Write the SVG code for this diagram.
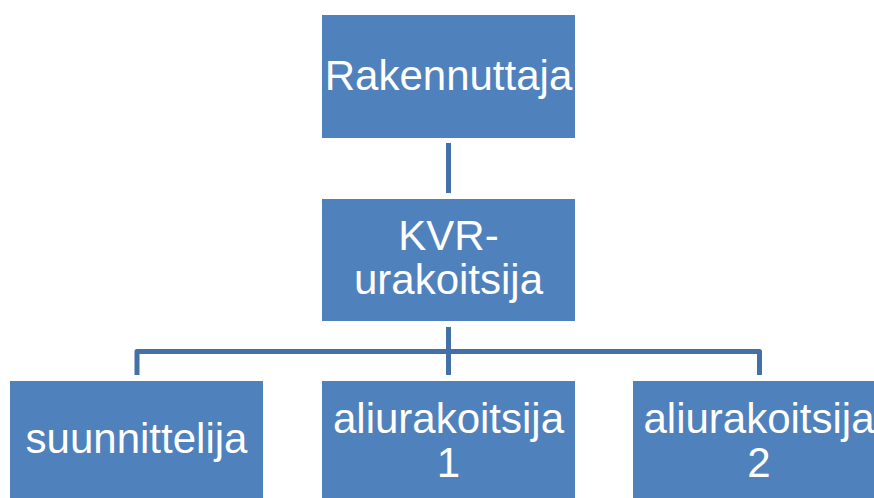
<svg xmlns="http://www.w3.org/2000/svg" width="874" height="498" viewBox="0 0 874 498">
  <style>
    .box { fill: #4F81BD; }
    .lbl { fill: #FFFFFF; font-family: "Liberation Sans", Arial, sans-serif; font-size: 42px; text-anchor: middle; }
    .conn { fill: none; stroke: #4470A8; stroke-width: 5; stroke-linejoin: round; }
  </style>
  <rect width="874" height="498" fill="#FFFFFF"/>

  <!-- hierarchy connectors -->
  <g id="connectors">
    <line class="conn" x1="448.5" y1="143" x2="448.5" y2="193"/>
    <line class="conn" x1="448.5" y1="327" x2="448.5" y2="375"/>
    <path class="conn" d="M137 375 V351.5 H759.5 V375"/>
  </g>

  <g id="rakennuttaja">
    <rect class="box" x="322" y="15" width="253" height="123"/>
    <text class="lbl" x="448.5" y="90">Rakennuttaja</text>
  </g>

  <g id="kvr-urakoitsija">
    <rect class="box" x="322" y="199" width="253" height="122"/>
    <text class="lbl" x="448.5" y="250">KVR-</text>
    <text class="lbl" x="448.5" y="294">urakoitsija</text>
  </g>

  <g id="suunnittelija">
    <rect class="box" x="10" y="381" width="253" height="123"/>
    <text class="lbl" x="136.5" y="453">suunnittelija</text>
  </g>

  <g id="aliurakoitsija-1">
    <rect class="box" x="322" y="381" width="253" height="123"/>
    <text class="lbl" x="448.5" y="433">aliurakoitsija</text>
    <text class="lbl" x="448.5" y="477">1</text>
  </g>

  <g id="aliurakoitsija-2">
    <rect class="box" x="633" y="381" width="253" height="123"/>
    <text class="lbl" x="759" y="433">aliurakoitsija</text>
    <text class="lbl" x="759" y="477">2</text>
  </g>
</svg>
